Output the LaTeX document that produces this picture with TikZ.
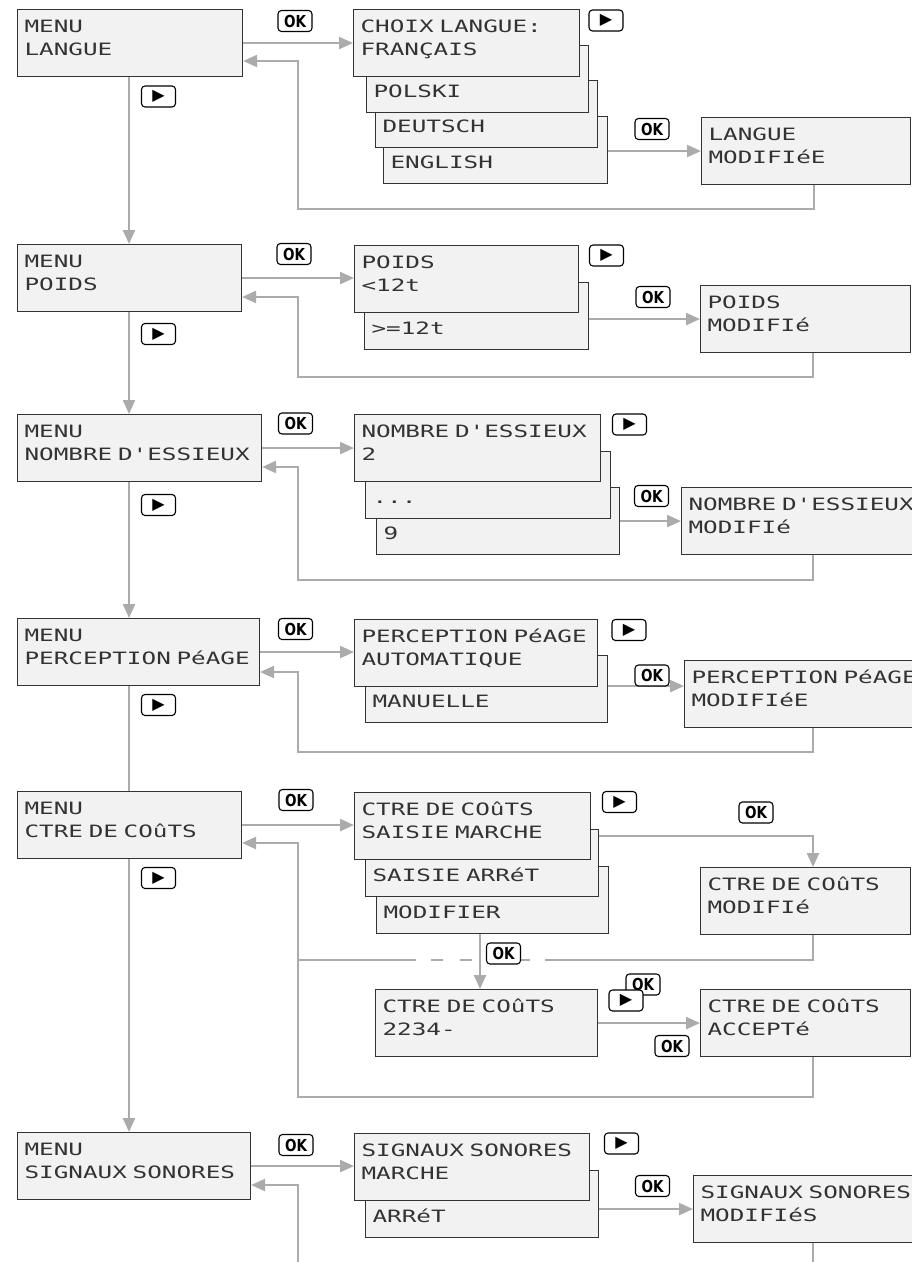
\documentclass[tikz,border=0pt]{standalone}
\usepackage{fontspec}
\newfontfamily\lcdfont[FakeStretch=1.43]{DejaVu Sans Mono}
\newfontfamily\keyfont[FakeStretch=0.82]{DejaVu Sans}
\newfontfamily\symfont{DejaVu Sans}
\usetikzlibrary{arrows.meta}

\begin{document}
\begin{tikzpicture}[
    x=1pt, y=-1pt,
    lcd/.style={draw=black!80, fill=black!5, line width=1.1pt, anchor=north west, minimum height=67pt,
        inner xsep=7pt, inner ysep=0pt, text width=#1, align=left, text height=23.4pt, text depth=43.6pt,
        font=\lcdfont\fontsize{17}{23}\selectfont, text=black!80},
    lcdback/.style={lcd=#1, text height=51.5pt, text depth=15.5pt},
    key/.style={draw, line width=1.1pt, rounded corners=3.5pt, fill=white, minimum width=34pt,
        minimum height=21pt, inner sep=0pt, font=\keyfont\bfseries\fontsize{16.5}{16.5}\selectfont},
    fwd/.style={key, font=\symfont\fontsize{16}{16}\selectfont},
    link/.style={draw=black!33, line width=2.3pt},
    arrow/.style={link, -{Triangle[length=14pt, width=12pt]}}
]
\useasboundingbox (0,0) rectangle (911,1262);
\coordinate (spine) at (129,0);

% Langue
\node[lcd=211pt] (mlang) at (17,9) {MENU\\LANGUE};
\node[lcdback=210pt] (l3) at (383,116) {ENGLISH};
\node[lcdback=208pt] (l2) at (375,80) {DEUTSCH};
\node[lcdback=208pt] (l1) at (366,45) {POLSKI};
\node[lcd=212pt] (lfront) at (353,9) {CHOIX LANGUE:\\FRANÇAIS};
\node[lcd=195pt] (lres) at (701,117) {LANGUE\\MODIFIéE};
\coordinate (lbr) at (814,209);
\coordinate (lbl) at (298,209);
\draw[arrow] (mlang.east) -- (mlang.east -| lfront.west);
\draw[arrow] (lres.west -| l3.east) -- (lres.west);
\draw[arrow] (lres.south -| lbr) -- (lbr) -- (lbl) |- ([yshift=-52pt]mlang.north east);
\node[key] (lok) at (295,21) {OK};
\node[fwd] (lnext) at (606,20.5) {▶};
\node[key] (lok2) at (652,129) {OK};
\node[fwd] (lmenu) at (158.5,96.5) {▶};

% Poids
\node[lcd=210pt] (mpoids) at (17,244) {MENU\\POIDS};
\node[lcdback=210pt] (p1) at (364,282) {>=12t};
\node[lcd=210pt] (pfront) at (354,245) {POIDS\\<12t};
\node[lcd=196pt] (pres) at (700,285) {POIDS\\MODIFIé};
\coordinate (pbr) at (813,377);
\coordinate (pbl) at (298,377);
\draw[arrow] (mlang.south -| spine) -- (mpoids.north -| spine);
\draw[arrow] (mpoids.east) -- (mpoids.east -| pfront.west);
\draw[arrow] (pres.west -| p1.east) -- (pres.west);
\draw[arrow] (pres.south -| pbr) -- (pbr) -- (pbl) |- ([yshift=-53pt]mpoids.north east);
\node[key] (pok) at (294,254) {OK};
\node[fwd] (pnext) at (606.5,255.5) {▶};
\node[key] (pok2) at (653,297) {OK};
\node[fwd] (pmenu) at (158.5,334) {▶};

% Nombre d'essieux
\node[lcd=230pt] (mess) at (17,414) {MENU\\NOMBRE D'ESSIEUX};
\node[lcdback=229pt] (e2) at (376,487) {9};
\node[lcdback=231pt] (e1) at (365,451) {...};
\node[lcd=232pt] (efront) at (354,414) {NOMBRE D'ESSIEUX\\2};
\node[lcd=265pt] (eres) at (681,487) {NOMBRE D'ESSIEUX\\MODIFIé};
\coordinate (ebr) at (813,580);
\coordinate (ebl) at (298,580);
\draw[arrow] (mpoids.south -| spine) -- (mess.north -| spine);
\draw[arrow] (mess.east) -- (mess.east -| efront.west);
\draw[arrow] (eres.west -| e2.east) -- (eres.west);
\draw[arrow] (eres.south -| ebr) -- (ebr) -- (ebl) |- ([yshift=-53pt]mess.north east);
\node[key] (eok) at (295.5,423.5) {OK};
\node[fwd] (enext) at (629.5,424.5) {▶};
\node[key] (eok2) at (651.5,496) {OK};
\node[fwd] (emenu) at (158.5,505) {▶};

% Perception peage
\node[lcd=228pt] (mpeage) at (17,618) {MENU\\PERCEPTION PéAGE};
\node[lcdback=228pt] (g1) at (365,655) {MANUELLE};
\node[lcd=229pt] (gfront) at (354,619) {PERCEPTION PéAGE\\AUTOMATIQUE};
\node[lcd=262pt] (gres) at (684,660) {PERCEPTION PéAGE\\MODIFIéE};
\coordinate (gin) at ([yshift=8pt]gres.west);
\coordinate (gbr) at (813,752);
\coordinate (gbl) at (298,752);
\draw[arrow] (mess.south -| spine) -- (mpeage.north -| spine);
\draw[arrow] (mpeage.east) -- (mpeage.east -| gfront.west);
\draw[arrow] (gin -| g1.east) -- (gin);
\draw[arrow] (gres.south -| gbr) -- (gbr) -- (gbl) |- ([yshift=-54pt]mpeage.north east);
\node[key] (gok) at (295.5,629) {OK};
\node[fwd] (gnext) at (629,630) {▶};
\node[key] (gok2) at (652,675.5) {OK};
\node[fwd] (gmenu) at (158.5,705) {▶};

% Ctre de couts
\node[lcd=210pt] (mcout) at (17,791) {MENU\\CTRE DE COûTS};
\node[lcdback=218pt] (c2) at (376,866) {MODIFIER};
\node[lcdback=219pt] (c1) at (365,829) {SAISIE ARRéT};
\node[lcd=222pt] (cfront) at (354,792) {CTRE DE COûTS\\SAISIE MARCHE};
\node[lcd=196pt] (cmod) at (700,867) {CTRE DE COûTS\\MODIFIé};
\node[lcd=208pt] (csaisie) at (375,989) {CTRE DE COûTS\\2234-};
\node[lcd=196pt] (cacc) at (700,989) {CTRE DE COûTS\\ACCEPTé};
\coordinate (cdown) at (480,0);
\coordinate (cmr) at (813,960);
\coordinate (cgr) at (545,960);
\coordinate (cgl) at (416,960);
\coordinate (cml) at (298,960);
\coordinate (cbr) at (813,1097);
\coordinate (cbl) at (298,1097);
\draw[link] (mpeage.south -| spine) -- (mcout.north -| spine);
\draw[arrow] (mcout.east) -- (mcout.east -| cfront.west);
\draw[arrow] ([yshift=-7pt]c1.north east) -| (cmod.north -| cmr);
\draw[link] (cmod.south -| cmr) -- (cmr) -- (cgr);
\draw[link, dash pattern=on 12pt off 17pt, dash phase=14pt] (cgl) -- (cgr);
\draw[link] (cgl) -- (cml);
\draw[arrow] (c2.south -| cdown) -- (csaisie.north -| cdown);
\draw[arrow] (csaisie) -- (cacc);
\draw[arrow] (cacc.south -| cbr) -- (cbr) -- (cbl) |- ([yshift=-52pt]mcout.north east);
\node[key] (cok) at (296,800) {OK};
\node[fwd] (cnext) at (619.5,802) {▶};
\node[key] (cok2) at (756,812.5) {OK};
\node[fwd] (cmenu) at (158.5,878) {▶};
\node[key] (cok3) at (503.5,953.5) {OK};
\node[key] (cok4) at (643,984.5) {OK};
\node[fwd] (cnext2) at (626,1000.5) {▶};
\node[key] (cok5) at (672,1046) {OK};

% Signaux sonores
\node[lcd=219pt] (msig) at (17,1132) {MENU\\SIGNAUX SONORES};
\node[lcdback=219pt] (s1) at (365,1170) {ARRéT};
\node[lcd=221pt] (sfront) at (354,1133) {SIGNAUX SONORES\\MARCHE};
\node[lcd=253pt] (sres) at (693,1175) {SIGNAUX SONORES\\MODIFIéS};
\coordinate (sbr) at (813,1270);
\coordinate (sbl) at (298,1270);
\draw[arrow] (mcout.south -| spine) -- (msig.north -| spine);
\draw[arrow] (msig.east) -- (msig.east -| sfront.west);
\draw[arrow] (sres.west -| s1.east) -- (sres.west);
\draw[link] (sres.south -| sbr) -- (sbr);
\draw[arrow] (sbl) |- ([yshift=-53pt]msig.north east);
\node[key] (sok) at (296,1145) {OK};
\node[fwd] (snext) at (621.5,1143.5) {▶};
\node[key] (sok2) at (652.5,1186) {OK};

\end{tikzpicture}
\end{document}
